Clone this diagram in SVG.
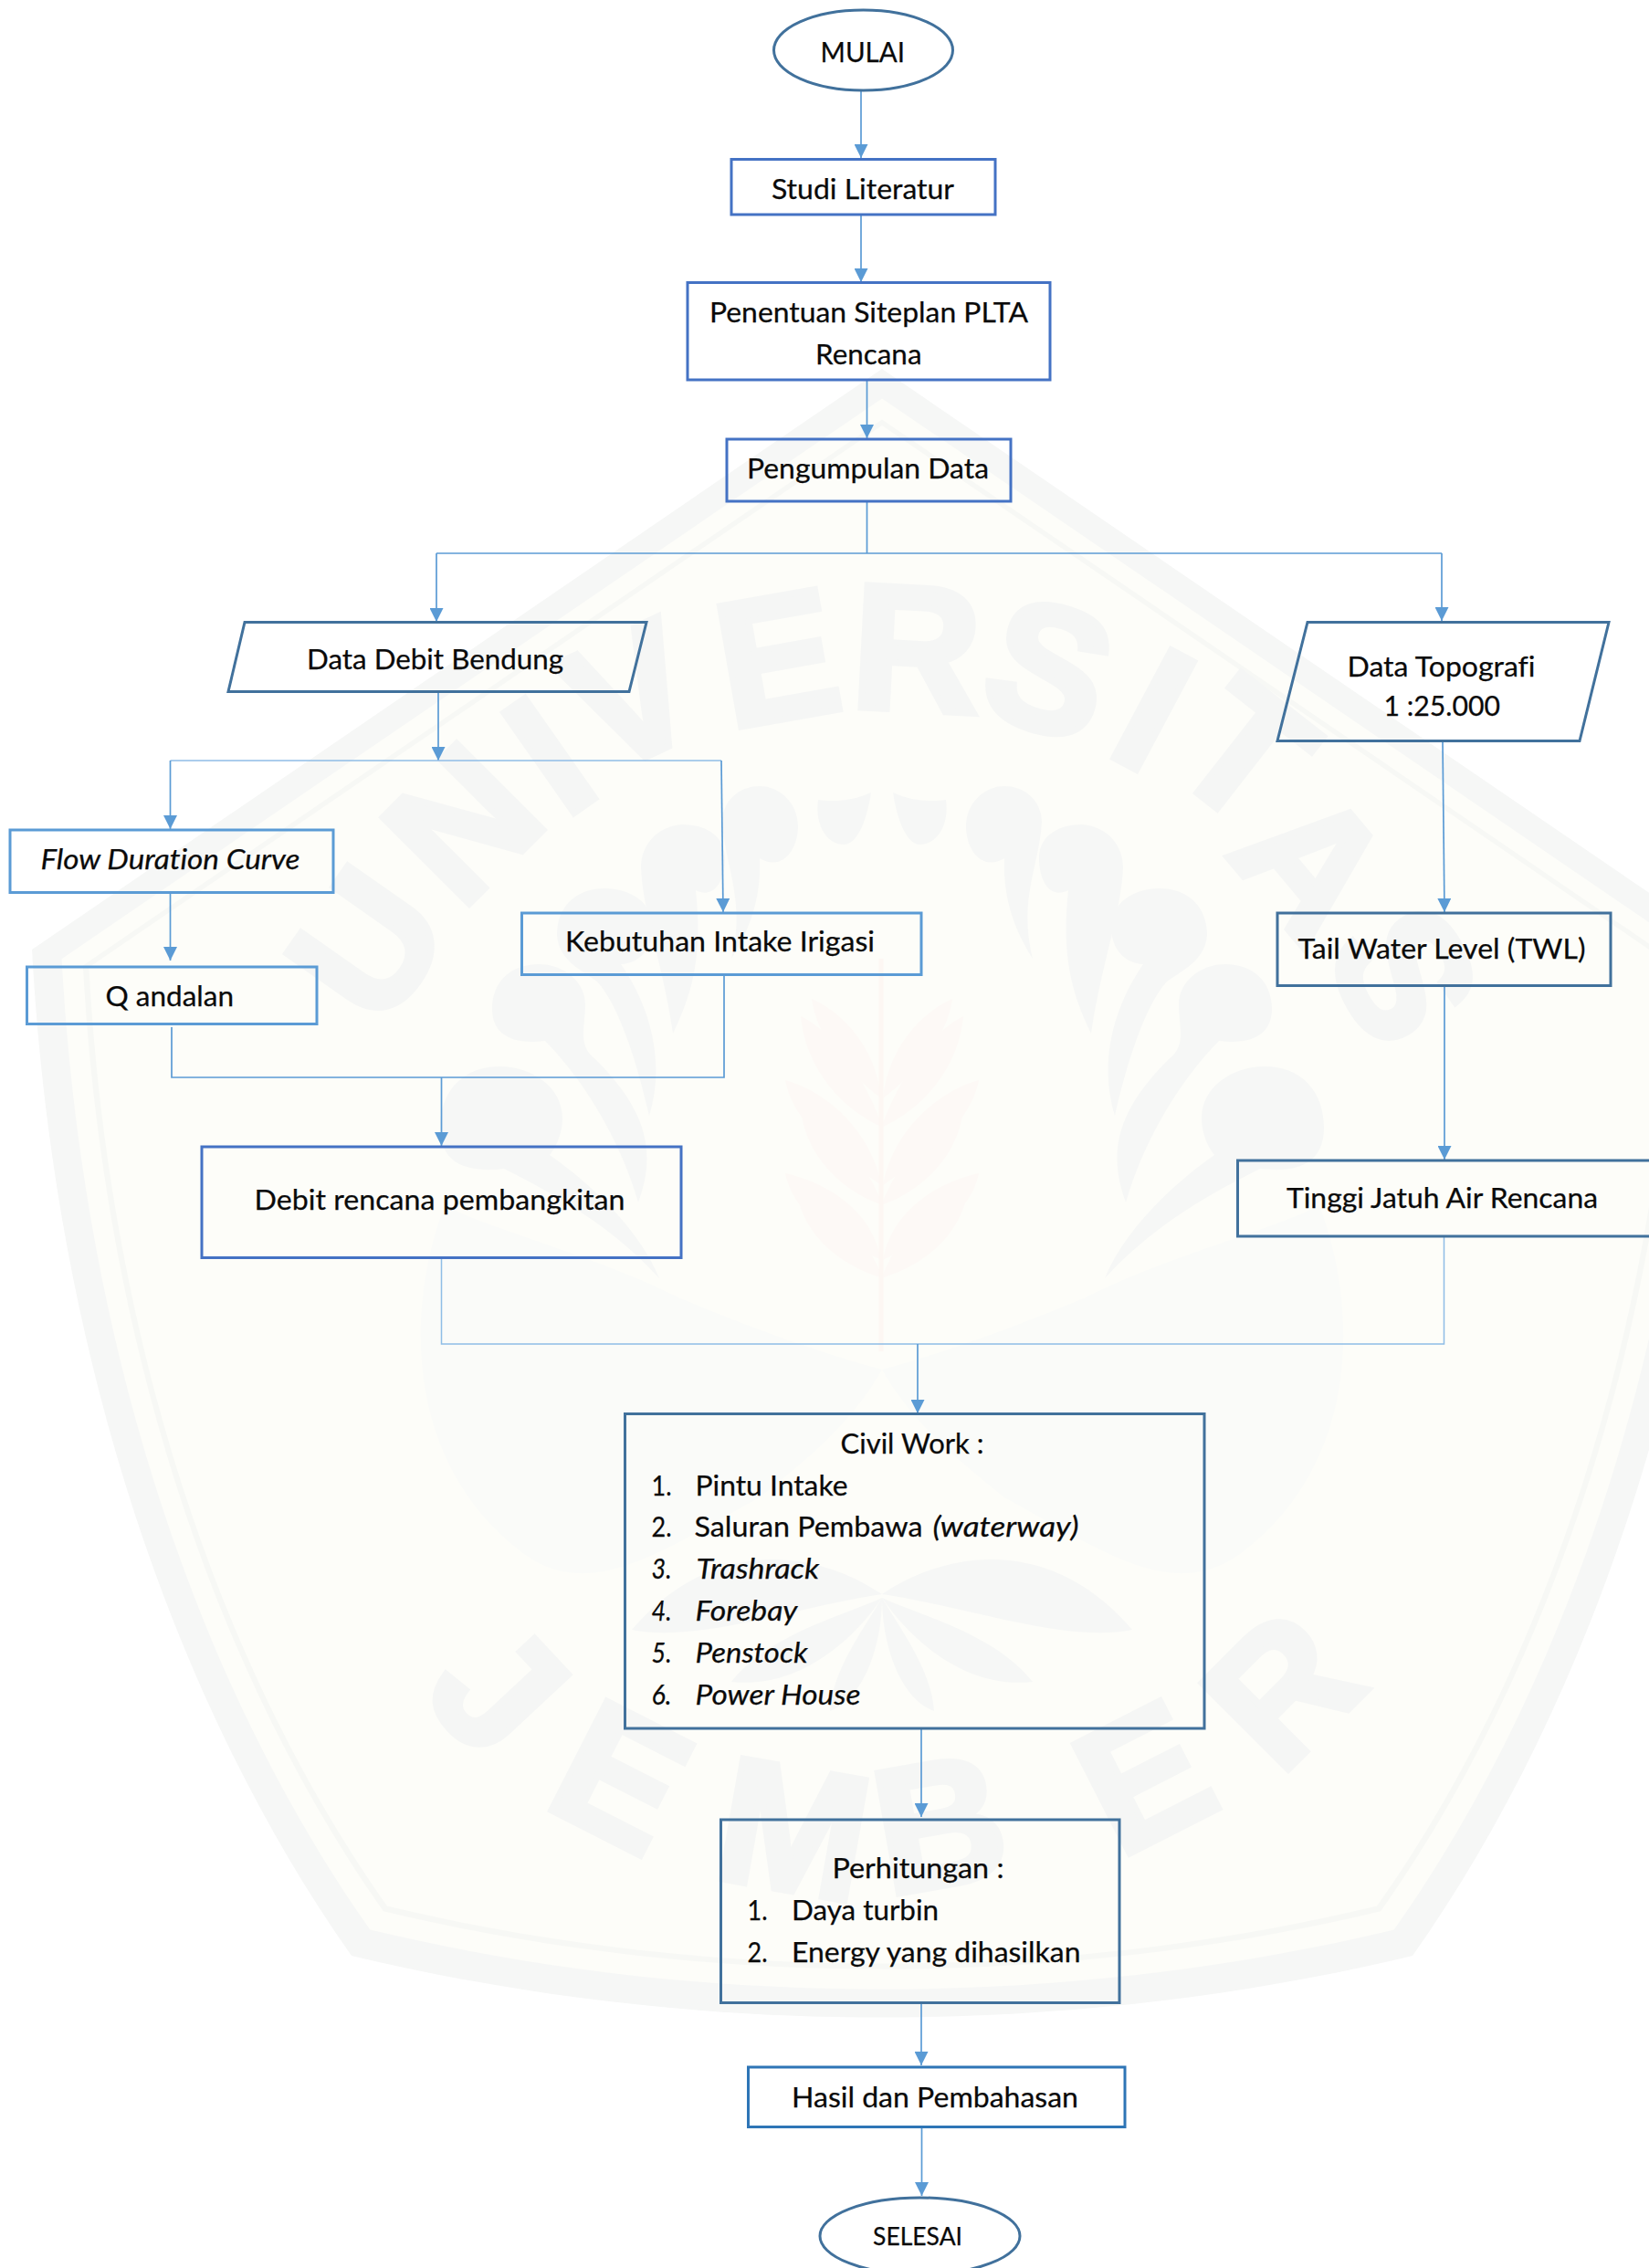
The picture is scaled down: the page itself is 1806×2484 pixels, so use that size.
<svg xmlns="http://www.w3.org/2000/svg" width="1806" height="2484" viewBox="0 0 1806 2484">
<style>
.t{font-family:Lato,"Liberation Sans",sans-serif;font-size:30.5px;fill:#0a0a0a;stroke:#0a0a0a;stroke-width:.25;font-variant-ligatures:none;transform:translate(-1.5px,-1px)}
.i{font-style:italic}
.b{fill:none;stroke-width:3}
.b1{stroke:#4472c4}
.b2{stroke:#5b9bd5}
.b3{stroke:#41719c}
.c{fill:none;stroke:#5b9bd5;stroke-width:1.7}
.ct{fill:none;stroke:#8fbde6;stroke-width:1.5}
.a{marker-end:url(#arrow)}
.wl{font-family:"Liberation Sans",Arial,sans-serif;font-weight:700;font-size:195px;fill:#f5f6f5;stroke:#f5f6f5;stroke-width:7;text-anchor:middle}
.wd{fill:#f6f7f6}
.wf{fill:#fafbf9}
.wp{fill:#fdf9f6}
</style>
<defs>
<marker id="arrow" viewBox="0 0 10 10" refX="10" refY="5" markerUnits="userSpaceOnUse" markerWidth="15" markerHeight="15" orient="auto"><path d="M0 0L10 5L0 10z" fill="#5b9bd5"/></marker>
<path id="pent" d="M966 404L35 1040C60 1500 200 1880 385 2142C760 2232 1172 2232 1547 2142C1732 1880 1872 1500 1897 1040Z"/>
<g id="half">
<path class="wd" d="M978 868C1000 878 1020 878 1036 876C1040 905 1025 925 1008 925C992 925 982 895 978 868Z"/>
<path class="wd" d="M1058 905C1058 880 1078 861 1100 861C1125 861 1141 880 1141 900C1138 950 1115 985 1131 1050C1112 1020 1098 985 1100 940C1075 955 1058 930 1058 905Z"/>
<path class="wd" d="M1138 940C1138 915 1160 903 1185 903C1212 905 1230 925 1230 950C1228 1000 1205 1060 1195 1132C1175 1090 1162 1050 1170 975C1150 985 1138 965 1138 940Z"/>
<path class="wd" d="M1217 1015C1217 990 1240 973 1270 973C1300 973 1322 992 1322 1024C1320 1050 1300 1060 1278 1075C1255 1100 1235 1160 1221 1222C1205 1170 1215 1110 1252 1056C1232 1055 1217 1040 1217 1015Z"/>
<path class="wd" d="M1291 1100C1291 1075 1315 1056 1342 1056C1372 1056 1393 1075 1393 1105C1393 1130 1375 1145 1335 1140C1300 1175 1255 1240 1233 1317C1212 1260 1225 1215 1280 1160C1300 1145 1291 1125 1291 1100Z"/>
<path class="wd" d="M1316 1225C1316 1190 1350 1168 1385 1168C1425 1168 1450 1195 1450 1235C1450 1275 1420 1285 1380 1280C1320 1310 1260 1345 1210 1400C1230 1350 1280 1300 1330 1265C1322 1255 1316 1240 1316 1225Z"/>
<path class="wf" d="M1189 1421C1280 1375 1400 1345 1445 1320C1490 1440 1485 1600 1367 1695C1290 1760 1210 1700 1100 1640C1050 1600 1000 1560 966 1500C1040 1480 1120 1450 1189 1421Z"/>
<path class="wd" d="M966 1746C1050 1690 1160 1690 1240 1785C1170 1800 1060 1760 966 1746Z"/>
<path class="wd" d="M966 1750C1010 1770 1090 1790 1131 1842C1060 1850 1000 1800 966 1750Z"/>
<path class="wd" d="M966 1750C990 1790 1020 1830 1023 1874C985 1860 966 1800 966 1750Z"/>
<path class="wp" d="M965 1203C935 1180 895 1140 889 1094C925 1110 960 1150 965 1203Z"/>
<path class="wp" d="M965 1235C985 1180 1020 1130 1055 1113C1050 1170 1010 1215 965 1235Z"/>
<path class="wp" d="M965 1298C925 1270 870 1235 860 1183C905 1195 955 1240 965 1298Z"/>
<path class="wp" d="M965 1320C985 1270 1020 1230 1055 1215C1050 1265 1010 1305 965 1320Z"/>
<path class="wp" d="M965 1380C925 1360 870 1335 860 1285C905 1295 955 1325 965 1380Z"/>
<path class="wp" d="M965 1400C985 1350 1025 1310 1061 1298C1055 1350 1015 1385 965 1400Z"/>
</g>
</defs>
<rect width="1806" height="2484" fill="#fff"/>
<g id="watermark">
<use href="#pent" fill="#f6f7f6"/>
<use href="#pent" fill="#fdfdf9" transform="translate(966 1330) scale(.965) translate(-966 -1330)"/>
<use href="#pent" fill="#f7f8f5" transform="translate(966 1330) scale(.94) translate(-966 -1330)"/>
<use href="#pent" fill="#fdfdf9" transform="translate(966 1330) scale(.933) translate(-966 -1330)"/>
<use href="#half"/>
<use href="#half" transform="translate(1932 0) scale(-1 1)"/>
<path d="M965 1050V1480" stroke="#fdf7f3" stroke-width="5" fill="none"/>
<text class="wl" transform="translate(400 1033) rotate(-55) translate(0 70)">U</text>
<text class="wl" transform="translate(505 900) rotate(-45) translate(0 70)">N</text>
<text class="wl" transform="translate(600 825) rotate(-35) translate(0 70)">I</text>
<text class="wl" transform="translate(690 760) rotate(-25) translate(0 70)">V</text>
<text class="wl" transform="translate(851 718) rotate(-10) translate(0 70)">E</text>
<text class="wl" transform="translate(1004 708) rotate(3) translate(0 70)">R</text>
<text class="wl" transform="translate(1150 730) rotate(17) translate(0 70)">S</text>
<text class="wl" transform="translate(1265 775) rotate(28) translate(0 70)">I</text>
<text class="wl" transform="translate(1365 822) rotate(38) translate(0 70)">T</text>
<text class="wl" transform="translate(1440 944) rotate(50) translate(0 70)">A</text>
<text class="wl" transform="translate(1540 1066) rotate(62) translate(0 70)">S</text>
<text class="wl" transform="translate(548 1848) rotate(47) translate(0 70)">J</text>
<text class="wl" transform="translate(682 1944) rotate(27) translate(0 70)">E</text>
<text class="wl" transform="translate(870 2001) rotate(10) translate(0 70)">M</text>
<text class="wl" transform="translate(1029 1995) rotate(-10) translate(0 70)">B</text>
<text class="wl" transform="translate(1252 1944) rotate(-27) translate(0 70)">E</text>
<text class="wl" transform="translate(1402 1848) rotate(-45) translate(0 70)">R</text>
</g>
<g id="connectors">
<path class="c a" d="M943 99V173"/>
<path class="c a" d="M943 235V309"/>
<path class="c a" d="M949.500 416V480"/>
<path class="c" d="M949.500 549V606"/>
<path class="c a" d="M478 606V681"/>
<path class="c a" d="M1579 606V680"/>
<path class="c" d="M478 606H1579"/>
<path class="c a" d="M480 758V833"/>
<path class="ct" d="M186.500 833H790"/>
<path class="c a" d="M186.500 833V908"/>
<path class="c a" d="M790 833L792 999"/>
<path class="c a" d="M186.500 978V1052"/>
<path class="c" d="M188 1125V1180H793V1068"/>
<path class="c a" d="M483.500 1180V1255"/>
<path class="ct" d="M483.500 1378V1472H1581.500V1354"/>
<path class="c a" d="M1005 1472V1548"/>
<path class="c a" d="M1580 812L1582 999"/>
<path class="c a" d="M1582 1080V1270"/>
<path class="c a" d="M1009 1893V1990"/>
<path class="c a" d="M1009 2194V2262"/>
<path class="c a" d="M1009.500 2330V2405"/>
</g>
<g id="n-mulai"><ellipse class="b b3" cx="945.500" cy="55" rx="98" ry="44"/><text class="t" x="900" y="69" textLength="92.500" lengthAdjust="spacingAndGlyphs">MULAI</text></g>
<g id="n-studi"><rect class="b b1" x="801" y="174.500" width="289" height="60.500"/><text class="t" x="846.500" y="218.500" textLength="200" lengthAdjust="spacingAndGlyphs">Studi Literatur</text></g>
<g id="n-penentuan"><rect class="b b1" x="753" y="309.500" width="397" height="106.500"/><text class="t" x="778.500" y="353.500" textLength="349" lengthAdjust="spacingAndGlyphs">Penentuan Siteplan PLTA</text><text class="t" x="894.500" y="400" textLength="116.500" lengthAdjust="spacingAndGlyphs">Rencana</text></g>
<g id="n-pengumpulan"><rect class="b b1" x="796" y="481" width="311" height="68"/><text class="t" x="819.500" y="525" textLength="265" lengthAdjust="spacingAndGlyphs">Pengumpulan Data</text></g>
<g id="n-debit-bendung"><path class="b b3" d="M268 681.500H708L689 757.500H250Z"/><text class="t" x="337.500" y="734" textLength="281" lengthAdjust="spacingAndGlyphs">Data Debit Bendung</text></g>
<g id="n-topografi"><path class="b b3" d="M1432 681.500H1762L1730 811.500H1399Z"/><text class="t" x="1477" y="742" textLength="206" lengthAdjust="spacingAndGlyphs">Data Topografi</text><text class="t" x="1517" y="785" textLength="127.500" lengthAdjust="spacingAndGlyphs">1 :25.000</text></g>
<g id="n-flow"><rect class="b b2" x="11" y="909" width="354" height="68.500"/><text class="t i" x="46" y="953" textLength="284" lengthAdjust="spacingAndGlyphs">Flow Duration Curve</text></g>
<g id="n-q"><rect class="b b2" x="29.500" y="1059" width="317.500" height="62.500"/><text class="t" x="117" y="1102.500" textLength="140.500" lengthAdjust="spacingAndGlyphs">Q andalan</text></g>
<g id="n-kebutuhan"><rect class="b b2" x="571.500" y="1000" width="437.500" height="67.500"/><text class="t" x="620.500" y="1043" textLength="339" lengthAdjust="spacingAndGlyphs">Kebutuhan Intake Irigasi</text></g>
<g id="n-debit-rencana"><rect class="b b1" x="221" y="1256" width="525" height="121.500"/><text class="t" x="280" y="1326" textLength="406" lengthAdjust="spacingAndGlyphs">Debit rencana pembangkitan</text></g>
<g id="n-twl"><rect class="b b3" x="1399" y="1000" width="365" height="79.500"/><text class="t" x="1423" y="1051" textLength="315" lengthAdjust="spacingAndGlyphs">Tail Water Level (TWL)</text></g>
<g id="n-tinggi"><rect class="b b3" x="1355.500" y="1271" width="470" height="83"/><text class="t" x="1410.500" y="1323.500" textLength="341" lengthAdjust="spacingAndGlyphs">Tinggi Jatuh Air Rencana</text></g>
<g id="n-civil"><rect class="b b3" x="684.500" y="1548.500" width="634.500" height="344.500"/>
<text class="t" x="922" y="1593" textLength="157" lengthAdjust="spacingAndGlyphs">Civil Work :</text>
<text class="t" x="715" y="1638.500" textLength="22" lengthAdjust="spacingAndGlyphs">1.</text><text class="t" x="763" y="1638.500" textLength="167" lengthAdjust="spacingAndGlyphs">Pintu Intake</text>
<text class="t" x="715" y="1684" textLength="22" lengthAdjust="spacingAndGlyphs">2.</text><text class="t" x="762" y="1684" textLength="250" lengthAdjust="spacingAndGlyphs">Saluran Pembawa</text><text class="t i" x="1023" y="1684" textLength="160" lengthAdjust="spacingAndGlyphs">(waterway)</text>
<text class="t i" x="715" y="1730" textLength="22" lengthAdjust="spacingAndGlyphs">3.</text><text class="t i" x="764" y="1730" textLength="134.500" lengthAdjust="spacingAndGlyphs">Trashrack</text>
<text class="t i" x="715" y="1775.500" textLength="22" lengthAdjust="spacingAndGlyphs">4.</text><text class="t i" x="763" y="1775.500" textLength="112" lengthAdjust="spacingAndGlyphs">Forebay</text>
<text class="t i" x="715" y="1821.500" textLength="22" lengthAdjust="spacingAndGlyphs">5.</text><text class="t i" x="763" y="1821.500" textLength="123" lengthAdjust="spacingAndGlyphs">Penstock</text>
<text class="t i" x="715" y="1867.500" textLength="22" lengthAdjust="spacingAndGlyphs">6.</text><text class="t i" x="763" y="1867.500" textLength="181" lengthAdjust="spacingAndGlyphs">Power House</text>
</g>
<g id="n-perhitungan"><rect class="b b3" x="789.500" y="1993" width="436.500" height="200.500"/>
<text class="t" x="913" y="2058" textLength="188" lengthAdjust="spacingAndGlyphs">Perhitungan :</text>
<text class="t" x="820" y="2104" textLength="22" lengthAdjust="spacingAndGlyphs">1.</text><text class="t" x="868.500" y="2104" textLength="161" lengthAdjust="spacingAndGlyphs">Daya turbin</text>
<text class="t" x="820" y="2150" textLength="22" lengthAdjust="spacingAndGlyphs">2.</text><text class="t" x="868.500" y="2150" textLength="316.500" lengthAdjust="spacingAndGlyphs">Energy yang dihasilkan</text>
</g>
<g id="n-hasil"><rect class="b" stroke="#2e75b6" x="819.500" y="2264" width="412.500" height="65.500"/><text class="t" x="868.500" y="2309" textLength="314" lengthAdjust="spacingAndGlyphs">Hasil dan Pembahasan</text></g>
<g id="n-selesai"><ellipse class="b b3" cx="1007.500" cy="2449" rx="109.500" ry="42"/><text class="t" x="957.500" y="2460" textLength="98" lengthAdjust="spacingAndGlyphs" style="font-size:27px">SELESAI</text></g>
</svg>
